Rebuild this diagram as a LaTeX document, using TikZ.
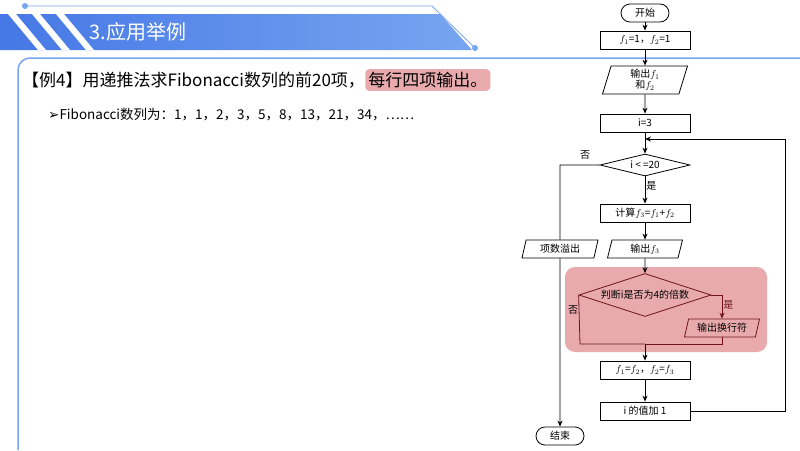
\documentclass[tikz,border=0pt]{standalone}
\usepackage{fontspec}
\setmainfont{Liberation Serif}
\newfontfamily\cjk{Noto Sans CJK SC}
\newfontfamily\dejavu{DejaVu Sans}
\usetikzlibrary{shapes.geometric,arrows.meta}
\definecolor{hdr}{RGB}{70,120,230}
\definecolor{hdrl}{RGB}{120,165,240}
\definecolor{pinkbg}{RGB}{232,170,172}
\definecolor{dred}{RGB}{110,20,25}
\begin{document}
\begin{tikzpicture}[x=1pt,y=-1pt,
  fc/.style={font=\fontsize{10}{11}\selectfont\cjk, inner sep=1pt},
  proc/.style={fc, draw, thick, minimum width=90, minimum height=18},
  io/.style={fc, draw, thick, trapezium, trapezium left angle=70, trapezium right angle=110, trapezium stretches body, minimum height=18},
  term/.style={fc, draw, thick, rounded corners=9, minimum width=48, minimum height=18},
  dec/.style={fc, draw, thick, diamond, aspect=4, inner sep=0pt},
  arr/.style={thick, -{Stealth[length=6pt,width=5pt]}},
  ln/.style={thick}]
\useasboundingbox (0,0) rectangle (800,450);
\fill[white] (0,0) rectangle (800,450);
% header
\shade[left color=hdr, right color=hdrl] (0,14) -- (440,14) -- (472,50) -- (0,50) -- cycle;
\foreach \s in {0,24,48}{\fill[white] (\s+8,14) -- (\s+16,14) -- (\s+46,50) -- (\s+38,50) -- cycle;}
\draw[hdrl, thick] (25,6) -- (432,6) -- (475,48);
\fill[hdrl] (25,6) circle (3); \fill[hdrl] (475,48) circle (3);
\node[font=\fontsize{20}{21}\selectfont\cjk, text=white, anchor=west] (title) at (86,32) {3.应用举例};
% content frame
\draw[hdrl, line width=1.5pt, rounded corners=12] (800,58) -- (18,58) -- (18,450);
\node[font=\fontsize{17}{18}\selectfont\cjk, anchor=west, inner sep=0] (q) at (22,80) {【例4】用递推法求Fibonacci数列的前20项，};
\node[font=\fontsize{17}{18}\selectfont\cjk, anchor=west, fill=pinkbg, rounded corners=4, inner sep=3pt] (q2) at (q.east) {每行四项输出。};
\node[font=\fontsize{13.5}{14}\selectfont\cjk, anchor=west, inner sep=0] (seq) at (48,115) {{\dejavu ➢}Fibonacci数列为：1，1，2，3，5，8，13，21，34，……};
% pink region
\fill[pinkbg, rounded corners=10] (565,267) rectangle (767,352);
% flowchart
\node[term] (start) at (645,13) {开始};
\node[proc] (init) at (645,40) {\(f_1\)=1，\(f_2\)=1};
\node[io, align=center, minimum width=85, minimum height=28, font=\fontsize{10}{10}\selectfont\cjk] (out12) at (645,80) {输出\(f_1\)\\和\(f_2\)};
\node[proc] (i3) at (645,123) {i=3};
\coordinate (join) at (645,139);
\node[dec, minimum width=90, minimum height=22] (cond) at (645,165) {i < =20};
\node[proc] (calc) at (645,213) {计算\(f_3\)=\(f_1\)+\(f_2\)};
\node[io, minimum width=75] (out3) at (645,249) {输出\(f_3\)};
\node[dec, draw=dred, minimum width=132, minimum height=43] (mod) at (645,295) {判断i是否为4的倍数};
\node[io, draw=dred, minimum width=75] (nl) at (722,328) {输出换行符};
\coordinate (m) at (645,344);
\node[proc] (swap) at (645,370) {\(f_1\)=\(f_2\)，\(f_2\)=\(f_3\)};
\node[proc] (inc) at (645,411) {i 的值加 1};
\node[io, minimum width=76] (ovf) at (560,249) {项数溢出};
\node[term] (end) at (560,436) {结束};
\draw[arr] (start) -- (init);
\draw[arr] (init) -- (out12);
\draw[arr] (out12) -- (i3);
\draw[arr] (i3) -- (cond);
\draw[arr] (cond) -- node[fc, right, pos=0.35]{是} (calc);
\draw[arr] (calc) -- (out3);
\draw[arr] (out3) -- (mod.north);
\draw[arr, dred] (mod.east) -| node[fc, pos=0.7, right]{是} (nl.north);
\draw[ln, dred] (mod.west) -- (580,344) -- (m);
\draw[ln, dred] (nl.south) |- (m);
\node[fc] (no2) at (573,310) {否};
\draw[arr] (m) -- (swap);
\draw[arr] (swap) -- (inc);
\draw[arr] (inc.east) -- (785,411) -- (785,139) -- (join);
\draw[ln] (cond.west) -- (560,165) -- (ovf.north);
\node[fc] (no1) at (585,155) {否};
\draw[arr] (ovf.south) -- (end);
\end{tikzpicture}
\end{document}
